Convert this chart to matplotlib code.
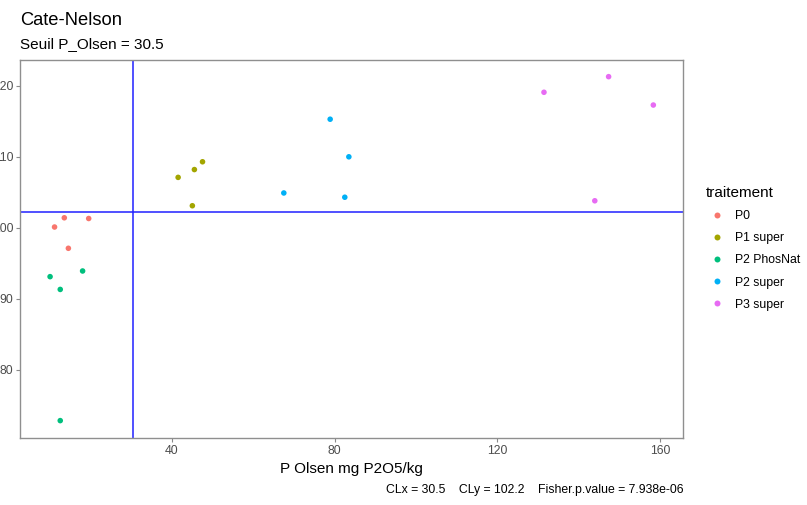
import matplotlib
matplotlib.use("Agg")
import matplotlib.pyplot as plt
from matplotlib.lines import Line2D

plt.rcParams["font.family"] = ["Liberation Sans", "DejaVu Sans"]

# Soil test P (Olsen) vs relative yield, by treatment
treatments = ["P0", "P1 super", "P2 PhosNat", "P2 super", "P3 super"]
colors = ["#F8766D", "#A3A500", "#00BF7D", "#00B0F6", "#E76BF3"]

p_olsen = {
    "P0": [11.1, 13.5, 14.5, 19.5],
    "P1 super": [41.5, 45.5, 47.5, 45.0],
    "P2 PhosNat": [10.0, 12.5, 18.0, 12.5],
    "P2 super": [67.5, 78.9, 83.5, 82.5],
    "P3 super": [131.5, 147.4, 158.4, 144.0],
}
rendement = {
    "P0": [100.1, 101.4, 97.1, 101.3],
    "P1 super": [107.1, 108.2, 109.3, 103.1],
    "P2 PhosNat": [93.1, 91.3, 93.9, 72.8],
    "P2 super": [104.9, 115.3, 110.0, 104.3],
    "P3 super": [119.1, 121.3, 117.3, 103.8],
}

cl_x = 30.5
cl_y = 102.2
fisher_p = "7.938e-06"

x_ticks = [40, 80, 120, 160]
y_ticks = [80, 90, 100, 110, 120]

W, H = 807, 505
fig = plt.figure(figsize=(W / 100, H / 100), dpi=100)
ax = fig.add_axes([20 / W, (H - 438) / H, 663 / W, 378 / H])

for t, c in zip(treatments, colors):
    ax.scatter(p_olsen[t], rendement[t], s=16, color=c, edgecolors="none", zorder=3)

ax.axvline(cl_x, color="#2020FF", lw=1.1, zorder=2)
ax.axhline(cl_y, color="#2020FF", lw=1.1, zorder=2)

ax.set_xlim(2.6, 165.7)
ax.set_ylim(70.35, 123.65)
ax.set_xticks(x_ticks)
ax.set_yticks(y_ticks)
ax.tick_params(axis="both", length=2.8, width=0.8, color="#8a8a8a",
               labelsize=8.8, labelcolor="#4D4D4D", pad=2)
for sp in ax.spines.values():
    sp.set_color("#8f8f8f")
    sp.set_linewidth(1.0)

ax.set_xlabel("P Olsen mg P2O5/kg", fontsize=11, color="black", labelpad=4)

fig.text(20 / W, 1 - 25 / H, "Cate-Nelson", fontsize=13.2, ha="left", va="baseline")
fig.text(20 / W, 1 - 48 / H, "Seuil P_Olsen = 30.5", fontsize=11, ha="left", va="baseline")
fig.text(683 / W, 1 - 493 / H,
         f"CLx = {cl_x}    CLy = {cl_y}    Fisher.p.value = {fisher_p}",
         fontsize=8.8, ha="right", va="baseline")

handles = [Line2D([], [], marker="o", ls="none", markersize=4.3,
                  markerfacecolor=c, markeredgecolor="none") for c in colors]
leg = fig.legend(handles, treatments, title="traitement", loc="upper left",
                 bbox_to_anchor=(706 / W, 1 - 186 / H), frameon=False,
                 fontsize=8.8, title_fontsize=11, handlelength=1.8,
                 handletextpad=0.57, labelspacing=0.83, alignment="left",
                 borderaxespad=0, borderpad=0)

fig.savefig("out.png", dpi=100)
